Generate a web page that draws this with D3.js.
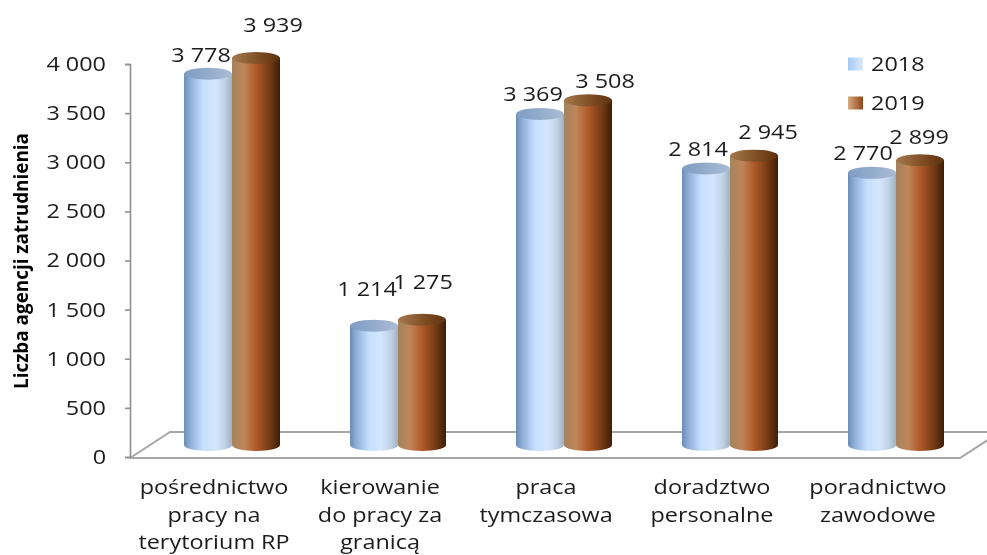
<!DOCTYPE html>
<html>
<head>
<meta charset="utf-8">
<script src="https://cdn.jsdelivr.net/npm/d3@7"></script>
<style>
  body { margin: 0; background: #fff; overflow: hidden; }
  svg { filter: blur(0.45px); }
  text { font-family: "Open Sans", sans-serif; fill: #1c1c1c; }
</style>
</head>
<body>
<svg width="987" height="555"></svg>
<script>
// chart data
var categories = [
    ["pośrednictwo", "pracy na", "terytorium RP"],
    ["kierowanie", "do pracy za", "granicą"],
    ["praca", "tymczasowa"],
    ["doradztwo", "personalne"],
    ["poradnictwo", "zawodowe"]
];
var years = ["2018", "2019"];
var values2018 = [3778, 1214, 3369, 2814, 2770];
var values2019 = [3939, 1275, 3508, 2945, 2899];
var yTicks = [0, 500, 1000, 1500, 2000, 2500, 3000, 3500, 4000];

// data labels were hand placed in the original, so nudge them from the bar top
var labelNudge2018 = [[-7, -19], [-7, -37], [-7, -20], [-8, -20], [-9, -20]];
var labelNudge2019 = [[17, -33], [1, -38], [17, -19], [14, -24], [-1, -23]];

var svg = d3.select("svg");
var defs = svg.append("defs");

function addGradient(id, stops) {
    var g = defs.append("linearGradient").attr("id", id);
    stops.forEach(function (s) {
        g.append("stop").attr("offset", s[0]).attr("stop-color", s[1]);
    });
}

// the reference text is stretched sideways, so widen each string by the same factor
function stretch(selection) {
    selection.each(function () {
        var w = this.getComputedTextLength();
        d3.select(this).attr("textLength", w * 1.17).attr("lengthAdjust", "spacingAndGlyphs");
    });
}

addGradient("blueBody", [[0, "#6c8cb6"], [0.12, "#8cacd6"], [0.4, "#c6e0ff"], [0.65, "#d3e6fc"], [0.85, "#c0d2e6"], [1, "#9fb0c2"]]);
addGradient("brownBody", [[0, "#a3835f"], [0.25, "#bf8658"], [0.5, "#b05a29"], [0.75, "#7c3f17"], [1, "#3e1e07"]]);
addGradient("blueTop", [[0, "#7f9cc4"], [1, "#a9bcd4"]]);
addGradient("brownTop", [[0, "#a57a4e"], [0.6, "#7c4a20"], [1, "#5e3110"]]);
addGradient("blueKey", [[0, "#a3c8f5"], [1, "#dbeafb"]]);
addGradient("brownKey", [[0, "#d8ab82"], [1, "#8f4618"]]);

// scales
var yScale = d3.scaleLinear().domain([0, 4000]).range([457, 64]);
var xScale = d3.scaleBand().domain(d3.range(categories.length)).range([149, 979]);
var seriesScale = d3.scaleBand().domain(years).range([-48, 48]);

var floorDepthX = 40, floorDepthY = -26, barLift = 12, capRy = 6;
var axisX = 130, floorRight = 960;

// floor of the 3d plot
var floorY = yScale(0) + 1;
svg.append("path")
    .attr("d", "M" + axisX + "," + floorY + "L" + (axisX + floorDepthX) + "," + (floorY + floorDepthY) +
        "L1000," + (floorY + floorDepthY))
    .attr("fill", "none").attr("stroke", "#a6a6a6").attr("stroke-width", 2);
svg.append("path")
    .attr("d", "M" + axisX + "," + floorY + "L" + floorRight + "," + floorY +
        "L" + (floorRight + floorDepthX) + "," + (floorY + floorDepthY))
    .attr("fill", "none").attr("stroke", "#a6a6a6").attr("stroke-width", 2);

// y axis
var yAxis = d3.axisLeft(yScale)
    .tickValues(yTicks)
    .tickSize(5)
    .tickPadding(19)
    .tickFormat(function (d) {
        return d3.format(",")(d).replace(",", " ");
    });
var axisG = svg.append("g").attr("transform", "translate(" + axisX + ",0)").call(yAxis);
axisG.selectAll("path, line").attr("stroke", "#8f8f8f").attr("stroke-width", 1.6);
axisG.selectAll("text").style("font-size", "20px").attr("fill", "#1c1c1c").call(stretch);

svg.append("text")
    .attr("transform", "translate(28,261) rotate(-90)")
    .attr("text-anchor", "middle")
    .attr("textLength", 256)
    .attr("lengthAdjust", "spacingAndGlyphs")
    .style("font-family", "'Liberation Sans Narrow', 'Open Sans', sans-serif")
    .style("font-weight", "bold")
    .style("font-size", "19px")
    .style("fill", "#000")
    .text("Liczba agencji zatrudnienia");

// cylinders
var series = [
    { year: years[0], values: values2018, nudge: labelNudge2018, body: "blueBody", top: "blueTop" },
    { year: years[1], values: values2019, nudge: labelNudge2019, body: "brownBody", top: "brownTop" }
];
var rx = seriesScale.bandwidth() / 2;

series.forEach(function (s) {
    var g = svg.append("g");
    var bars = g.selectAll("g").data(s.values).enter().append("g")
        .attr("transform", function (d, i) {
            var cx = xScale(i) + xScale.bandwidth() / 2 + seriesScale(s.year) + rx;
            return "translate(" + cx + "," + (yScale(d) - barLift) + ")";
        });

    bars.append("path")
        .attr("d", function (d) {
            var h = yScale(0) - yScale(d);
            return "M" + (-rx) + ",0V" + h + "A" + rx + "," + capRy + " 0 0 0 " + rx + "," + h + "V0Z";
        })
        .attr("fill", "url(#" + s.body + ")");

    bars.append("ellipse")
        .attr("rx", rx).attr("ry", capRy)
        .attr("fill", "url(#" + s.top + ")");
});

// data labels go on top of all the bars
series.forEach(function (s) {
    svg.append("g").selectAll("text").data(s.values).enter().append("text")
        .attr("x", function (d, i) {
            return xScale(i) + xScale.bandwidth() / 2 + seriesScale(s.year) + rx + s.nudge[i][0];
        })
        .attr("y", function (d, i) {
            return yScale(d) - barLift + s.nudge[i][1];
        })
        .attr("text-anchor", "middle")
        .attr("dy", "0.35em")
        .style("font-size", "20px")
        .text(function (d) {
            return d3.format(",")(d).replace(",", " ");
        })
        .call(stretch);
});

// category labels, one text per line
var catG = svg.append("g").selectAll("g").data(categories).enter().append("g")
    .attr("transform", function (d, i) {
        return "translate(" + (xScale(i) + xScale.bandwidth() / 2 - 18) + ",494)";
    });
catG.selectAll("text").data(function (d) { return d; }).enter().append("text")
    .attr("text-anchor", "middle")
    .style("font-size", "20px")
    .attr("y", function (d, i) { return i * 27.5; })
    .text(function (d) { return d; })
    .call(stretch);

// legend
var legendY = d3.scalePoint().domain(years).range([64, 103]);
var legend = svg.append("g").selectAll("g").data(series).enter().append("g")
    .attr("transform", function (d) { return "translate(848," + legendY(d.year) + ")"; });
legend.append("rect")
    .attr("y", -6.5).attr("width", 15).attr("height", 13)
    .attr("fill", function (d, i) { return i == 0 ? "url(#blueKey)" : "url(#brownKey)"; });
legend.append("text")
    .attr("x", 23).attr("dy", "0.35em")
    .style("font-size", "20px")
    .text(function (d) { return d.year; })
    .call(stretch);
</script>
</body>
</html>
